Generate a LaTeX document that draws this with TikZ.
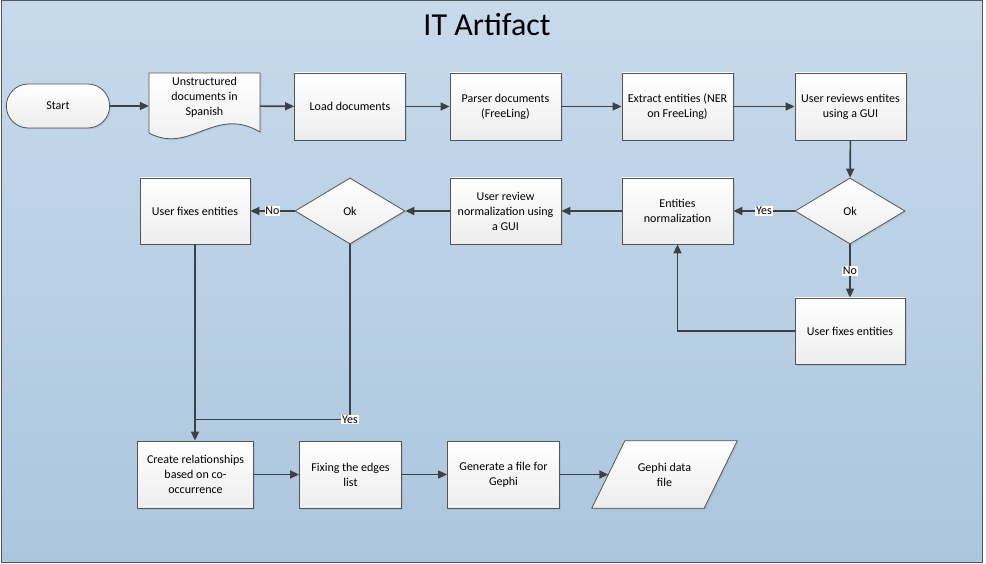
\documentclass[tikz,border=0pt]{standalone}
\usepackage{fontspec}
\setmainfont{Carlito}
\usetikzlibrary{arrows.meta,shapes.geometric,shapes.misc,shadows}
\definecolor{panetop}{RGB}{199,218,236}
\definecolor{panebot}{RGB}{172,198,222}
\definecolor{edgegray}{RGB}{64,64,64}
\definecolor{rimgray}{RGB}{85,85,85}

\begin{document}
\begin{tikzpicture}[x=1pt,y=-1pt,
    every node/.style={font=\fontsize{12}{15}\selectfont},
    shapelook/.style={draw=rimgray, line width=0.8pt, top color=white, bottom color=black!7,
      drop shadow={opacity=0.18,shadow xshift=1.5pt,shadow yshift=-1.5pt}},
    box/.style={shapelook, rectangle, minimum width=111pt, minimum height=67pt, align=center, inner sep=2pt},
    decide/.style={shapelook, diamond, minimum width=110pt, minimum height=66pt, inner sep=0pt},
    ghost/.style={rectangle, inner sep=0pt, align=center},
    flow/.style={draw=edgegray, line width=1.6pt, -{Triangle[length=9pt,width=8pt]}},
    plainline/.style={draw=edgegray, line width=1.6pt},
    tag/.style={fill=white, inner sep=0.8pt, font=\fontsize{12}{13}\selectfont}]
	\useasboundingbox (0,0) rectangle (986,564);
	\path[top color=panetop, bottom color=panebot, draw=rimgray, line width=1pt] (1,1) rectangle (982,562);
	\node (title) at (487,25) {\fontsize{32}{36}\selectfont IT Artifact};

	% first row
	\node[shapelook, rounded rectangle, minimum width=110pt, minimum height=44pt] (start) at (58,106) {Start};
	\node[ghost, minimum width=111pt, minimum height=66pt] (docs) at (204.5,106) {};
	\path[shapelook] (149,73) -- (260,73) -- (260,132) .. controls (215,105) and (190,155) .. (149,133) -- cycle;
	\node[ghost] (docstext) at ([yshift=9pt]docs.center) {Unstructured\\documents in\\Spanish};
	\node[box] (load) at (350,106.5) {Load documents};
	\node[box] (parser) at (505.5,106.5) {Parser documents\\(FreeLing)};
	\node[box] (extract) at (677.5,106.5) {Extract entities (NER\\on FreeLing)};
	\node[box] (reviews) at (850.5,106.5) {User reviews entites\\using a GUI};

	% second row
	\node[decide] (okright) at (850,211) {Ok};
	\node[box, minimum height=66pt] (norm) at (677.5,211) {Entities\\normalization};
	\node[box, minimum height=66pt] (revnorm) at (505.5,211) {User review\\normalization using\\a GUI};
	\node[decide] (okleft) at (350,211) {Ok};
	\node[box, minimum width=110pt, minimum height=66pt] (fixleft) at (195,211) {User fixes entities};
	\node[box, minimum width=110pt, minimum height=66pt] (fixright) at (850,331) {User fixes entities};

	% last row
	\node[box, minimum width=116pt] (create) at (195.5,474.5) {Create relationships\\based on co-\\occurrence};
	\node[box, minimum width=102pt] (fixing) at (350.5,474.5) {Fixing the edges\\list};
	\node[box, minimum width=112pt] (generate) at (503.5,474.5) {Generate a file for\\Gephi};
	\node[ghost, minimum width=145pt, minimum height=67pt] (gephi) at (664.5,474.5) {};
	\path[shapelook] ([xshift=33pt]gephi.north west) -- (gephi.north east)
	  -- ([xshift=-33pt]gephi.south east) -- (gephi.south west) -- cycle;
	\node[ghost] (gephitext) at (gephi.center) {Gephi data\\file};
	\coordinate (merge) at ([yshift=21pt]create.north);

	% connectors
	\draw[flow] (start) -- (docs);
	\draw[flow] (docs) -- (load);
	\draw[flow] (load) -- (parser);
	\draw[flow] (parser) -- (extract);
	\draw[flow] (extract) -- (reviews);
	\draw[flow] (reviews) -- (okright);
	\draw[flow] (okright) -- node[tag] {Yes} (norm);
	\draw[flow] (okright) -- node[tag] {No} (fixright);
	\draw[flow] (fixright.west) -| (norm.south);
	\draw[flow] (norm) -- (revnorm);
	\draw[flow] (revnorm) -- (okleft);
	\draw[flow] (okleft) -- node[tag] {No} (fixleft);
	\draw[flow] (fixleft.south) -- (fixleft.south |- create.north);
	\draw[plainline] (okleft.south) |- node[tag, pos=0.5] {Yes} (merge);
	\draw[flow] (create) -- (fixing);
	\draw[flow] (fixing) -- (generate);
	\draw[flow] (generate) -- ([xshift=16.5pt]gephi.west);
\end{tikzpicture}
\end{document}
